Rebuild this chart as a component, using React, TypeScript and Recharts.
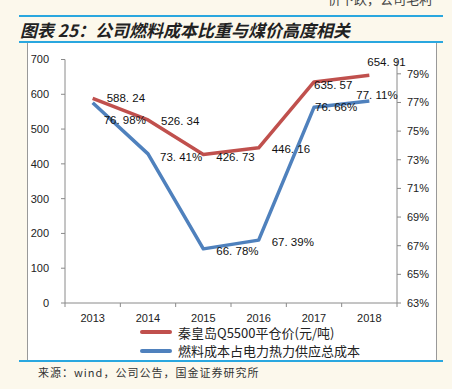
import React from "react";
import { LineChart, Line, XAxis, YAxis, LabelList } from "recharts";

const years = ["2013", "2014", "2015", "2016", "2017", "2018"];
const coalPrice = [588.24, 526.34, 426.73, 446.16, 635.57, 654.91];
const fuelShare = [76.98, 73.41, 66.78, 67.39, 76.66, 77.11];
const leftTicks = [0, 100, 200, 300, 400, 500, 600, 700];
const rightTicks = [63, 65, 67, 69, 71, 73, 75, 77, 79];

// label offsets from each point (dx, dy)
const priceLabelPos = [[14, 0], [13, 1], [13, 2], [13, 1], [0, 3], [-2, -13]];
const shareLabelPos = [[11, 17], [12, 3], [13, 2], [13, 2], [1, 0], [-13, -6]];

const RED = "#C0504D";
const BLUE = "#4F81BD";
const RULE = "#2AA7DF";
const AXIS = "#8A8A8A";
const FONT = "'Liberation Sans', Arial, sans-serif";
const CJK = "'Noto Sans CJK SC', sans-serif";

const rows = years.map((y, i) => ({ year: y, price: coalPrice[i], share: fuelShare[i] }));

const CW = 410, CH = 318;
const M = { top: 16.5, right: 0, bottom: 38, left: 0 };
const LW = 38, RW = 40;
const band = (CW - LW - RW) / years.length;

const XTick = (p: any) => {
  const { x, y, payload, index } = p;
  return (
    <g>
      <line x1={x - band / 2} x2={x - band / 2} y1={y} y2={y + 4} stroke={AXIS} />
      {index === years.length - 1 && (
        <line x1={x + band / 2} x2={x + band / 2} y1={y} y2={y + 4} stroke={AXIS} />
      )}
      <text x={x} y={y + 15} textAnchor="middle" dominantBaseline="central" fontSize={11} fill="#222" fontFamily={FONT}>
        {payload.value}
      </text>
    </g>
  );
};

const fmt = (v: number) => v.toFixed(2).replace(".", ". ");

const makeLabel = (pos: number[][], suffix: string) => (p: any) => {
  const { x, y, value, index } = p;
  const [dx, dy] = pos[index];
  return (
    <text x={x + dx} y={y + dy} dominantBaseline="central" fontSize={11.5} fill="#111" fontFamily={FONT}>
      {fmt(value) + suffix}
    </text>
  );
};

export default function App() {
  return (
    <div style={{ position: "fixed", left: 0, top: 0, width: 452, height: 389, background: "#FCF8EC", overflow: "hidden", fontFamily: CJK }}>
      <div style={{ position: "absolute", left: 328, top: -11, fontSize: 13, color: "#444", whiteSpace: "nowrap" }}>价下跌，公司毛利</div>
      <div style={{ position: "absolute", left: 19, top: 15, width: 424, height: 2, background: RULE }} />
      <div style={{ position: "absolute", left: 20, top: 18, fontSize: 17, fontWeight: 700, fontStyle: "italic", color: "#222", whiteSpace: "nowrap", lineHeight: "23px" }}>
        图表 25：公司燃料成本比重与煤价高度相关
      </div>
      <div style={{ position: "absolute", left: 19, top: 41, width: 424, height: 2, background: RULE }} />
      <div style={{ position: "absolute", left: 27, top: 43, width: CW - 2, height: CH - 1, background: "#fff", borderLeft: "1px solid #999", borderRight: "1px solid #999" }} />
      <div style={{ position: "absolute", left: 27, top: 43 }}>
        <LineChart width={CW} height={CH} data={rows} margin={M}>
          <XAxis dataKey="year" xAxisId="x" padding={{ left: band / 2, right: band / 2 }} axisLine={{ stroke: AXIS }} tickLine={false} tickSize={0} tickMargin={0} height={20} tick={(p: any) => <XTick {...p} />} interval={0} />
          <YAxis yAxisId="l" orientation="left" width={LW} domain={[0, 700]} ticks={leftTicks} axisLine={{ stroke: AXIS }} tickLine={{ stroke: AXIS }} tickSize={4} tickMargin={12} tick={{ fontSize: 11, fill: "#222", fontFamily: FONT }} />
          <YAxis yAxisId="r" orientation="right" width={RW} domain={[63, 80]} ticks={rightTicks} axisLine={{ stroke: AXIS }} tickLine={{ stroke: AXIS }} tickSize={4} tickMargin={6} tickFormatter={(v: number) => v + "%"} tick={{ fontSize: 11, fill: "#222", fontFamily: FONT, textAnchor: "start" }} />
          <Line xAxisId="x" yAxisId="l" dataKey="price" stroke={RED} strokeWidth={3.5} dot={false} isAnimationActive={false} strokeLinejoin="round">
            <LabelList dataKey="price" content={makeLabel(priceLabelPos, "")} />
          </Line>
          <Line xAxisId="x" yAxisId="r" dataKey="share" stroke={BLUE} strokeWidth={3.5} dot={false} isAnimationActive={false} strokeLinejoin="round">
            <LabelList dataKey="share" content={makeLabel(shareLabelPos, "%")} />
          </Line>
        </LineChart>
      </div>
      {[{ c: RED, t: "秦皇岛Q5500平仓价(元/吨)", y: 332 }, { c: BLUE, t: "燃料成本占电力热力供应总成本", y: 350.5 }].map((it) => (
        <div key={it.t} style={{ position: "absolute", left: 140, top: it.y - 9, height: 18, display: "flex", alignItems: "center" }}>
          <div style={{ width: 32, height: 4, borderRadius: 2, background: it.c }} />
          <span style={{ marginLeft: 6, fontSize: 13, color: "#222", whiteSpace: "nowrap" }}>{it.t}</span>
        </div>
      ))}
      <div style={{ position: "absolute", left: 19, top: 360, width: 424, height: 2, background: RULE }} />
      <div style={{ position: "absolute", left: 38, top: 364, fontSize: 11, letterSpacing: 1, color: "#333", whiteSpace: "nowrap", lineHeight: "16px" }}>
        来源：wind，公司公告，国金证券研究所
      </div>
    </div>
  );
}
